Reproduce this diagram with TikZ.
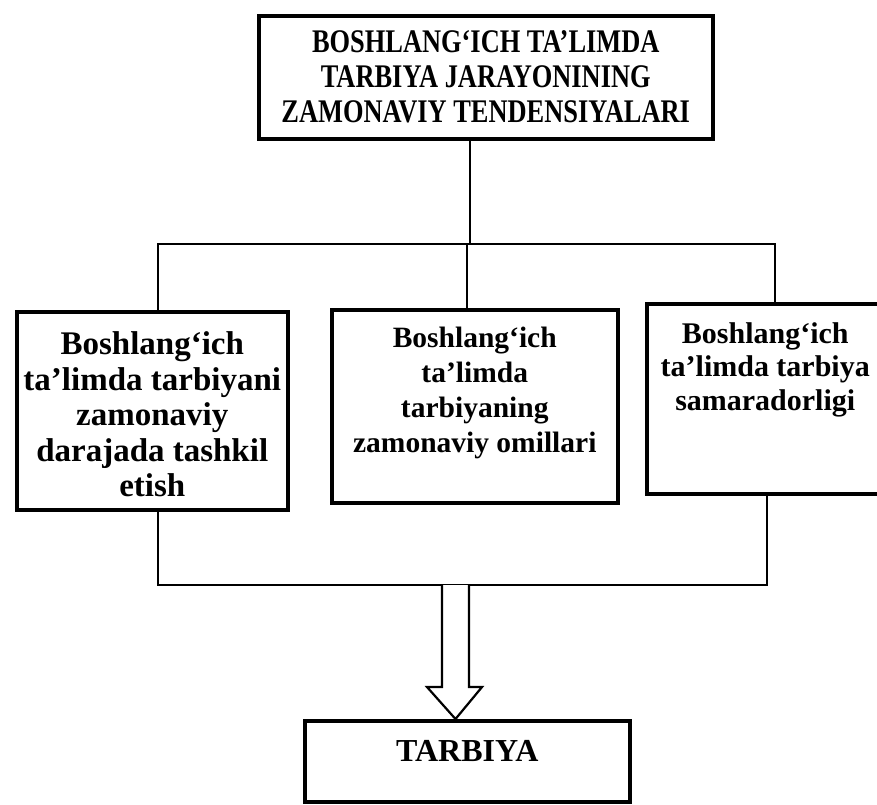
\documentclass[tikz,border=0pt]{standalone}
\usepackage{fontspec}
\setmainfont{Liberation Serif}
\newfontfamily\topfont{Liberation Serif}[FakeStretch=0.8]
\usetikzlibrary{calc}
\begin{document}
\begin{tikzpicture}[x=1pt,y=-1pt,
  box/.style={draw, line width=3.5pt, inner sep=0pt, anchor=north west, font=\bfseries},
  conn/.style={line width=2.2pt}]
\useasboundingbox (0,0) rectangle (877,804);
\clip (0,0) rectangle (877,804);
\fill[white] (0,0) rectangle (877,804);

\node[box, minimum width=454pt, minimum height=123pt, align=center,
      font=\topfont\bfseries\fontsize{33}{35}\selectfont] (top) at (257,14)
  {BOSHLANG‘ICH TA’LIMDA\\TARBIYA JARAYONINING\\ZAMONAVIY TENDENSIYALARI};

\node[box] (left) at (15,310)
  {\parbox[c][198pt][t]{271pt}{\centering\fontsize{33}{35.5}\selectfont\vspace*{20pt}Boshlang‘ich\\ ta’limda tarbiyani\\ zamonaviy\\ darajada tashkil\\ etish}};

\node[box] (mid) at (330,308)
  {\parbox[c][193pt][t]{286pt}{\centering\fontsize{29.5}{35}\selectfont\vspace*{17pt}Boshlang‘ich\\ ta’limda\\ tarbiyaning\\ zamonaviy omillari}};

\node[box] (right) at (645,302)
  {\parbox[c][190pt][t]{237pt}{\centering\fontsize{30}{33.5}\selectfont\vspace*{18.5pt}Boshlang‘ich\\ ta’limda tarbiya\\ samaradorligi}};

\node[box] (res) at (303,719)
  {\parbox[c][81pt][t]{325pt}{\centering\fontsize{32}{35}\selectfont\vspace*{20pt}TARBIYA}};

% upper connectors
\coordinate (jt) at (470,244);
\coordinate (jl) at (158,244);
\coordinate (jm) at (467,244);
\coordinate (jr) at (775,244);
\draw[conn] (top.south -| jt) -- (jt);
\draw[conn] (jl |- left.north) -- (jl) -- (jr) -- (jr |- right.north);
\draw[conn] (jm) -- (jm |- mid.north);

% lower connectors
\coordinate (bl) at (158,585);
\coordinate (br) at (767,585);
\draw[conn] (left.south -| bl) -- (bl) -- (br) -- (right.south -| br);

% hollow arrow
\coordinate (ac) at (455.5,585);
\draw[conn, line join=miter, fill=white]
  ($(ac)+(-13.5,0)$) -- ++(0,102) -- ++(-15,0) -- (ac |- res.north)
  -- ($(ac)+(26.5,102)$) -- ++(-13,0) -- ($(ac)+(13.5,0)$);
\end{tikzpicture}
\end{document}
